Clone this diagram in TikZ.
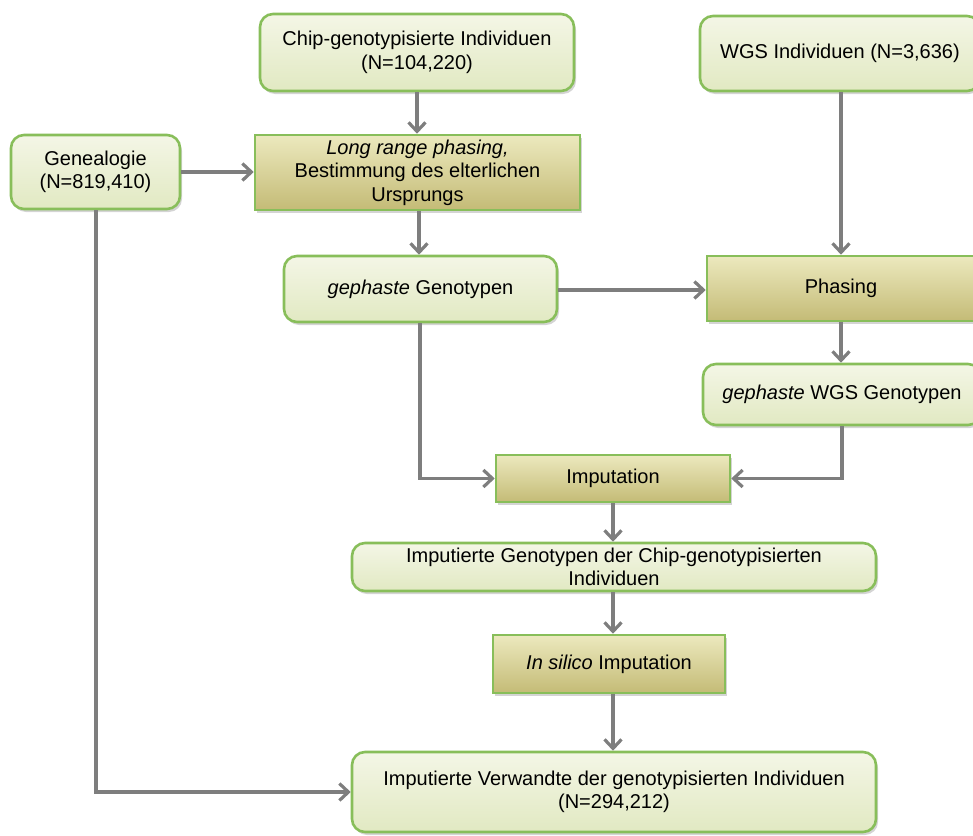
\documentclass[tikz,border=0pt]{standalone}
\usepackage{fontspec}
\setmainfont{Liberation Sans}
\usetikzlibrary{arrows.meta,shadows}
\definecolor{boxline}{HTML}{88BE5A}
\definecolor{paletop}{HTML}{F4F6E6}
\definecolor{palebot}{HTML}{E1E9C2}
\definecolor{olivetop}{HTML}{ECE9BE}
\definecolor{olivebot}{HTML}{C4BB76}
\definecolor{flow}{HTML}{7E7E7E}
\tikzset{
  basebox/.style={draw=boxline, line width=2.6pt, align=center, inner sep=0pt,
    font=\fontsize{20}{23.5}\selectfont,
    drop shadow={shadow xshift=2pt, shadow yshift=-3pt, opacity=0.28, fill=black!60}},
  databox/.style={basebox, rounded corners=13pt, top color=paletop, bottom color=palebot},
  procbox/.style={basebox, top color=olivetop, bottom color=olivebot},
  flowline/.style={draw=flow, line width=3.8pt,
    -{Straight Barb[length=9pt,width=17pt,line width=3.2pt]}}
}
\newcommand{\boxat}[6]{% name, style, x1, y1, x2, y2 -> node spanning that area
  \node[#2, minimum width={(#5-#3)*1pt}, minimum height={(#6-#4)*1pt}] (#1) at ({(#3+#5)/2},{(#4+#6)/2})}
\begin{document}
\begin{tikzpicture}[x=1pt,y=-1pt]
\useasboundingbox (0,0) rectangle (973,835);

\boxat{chip}{databox}{260}{14}{574}{91} {Chip-genotypisierte Individuen\\(N=104,220)};
\boxat{wgs}{databox}{700}{16}{980}{91} {WGS Individuen (N=3,636)};
\boxat{gen}{databox}{11}{135}{180}{209} {Genealogie\\(N=819,410)};
\boxat{lrp}{procbox}{255}{135}{580}{210} {\textit{Long range phasing,}\\Bestimmung des elterlichen\\Ursprungs};
\boxat{gph}{databox}{284}{256}{557}{322} {\textit{gephaste} Genotypen};
\boxat{phs}{procbox}{707}{256}{975}{321} {Phasing};
\boxat{gwgs}{databox}{703}{364}{981}{425} {\textit{gephaste} WGS Genotypen};
\boxat{imp}{procbox}{496}{455}{730}{502} {Imputation};
\boxat{igt}{databox}{352}{543}{876}{591} {Imputierte Genotypen der Chip-genotypisierten\\Individuen};
\boxat{isi}{procbox}{493}{635}{725}{693} {\textit{In silico} Imputation};
\boxat{ivw}{databox}{352}{752}{876}{832} {Imputierte Verwandte der genotypisierten Individuen\\(N=294,212)};

\draw[flowline] (chip.south -| 417,0) -- (lrp.north -| 417,0);
\draw[flowline] (gen.east) -- (lrp.west |- gen.east);
\draw[flowline] (wgs.south -| 841,0) -- (phs.north -| 841,0);
\draw[flowline] (lrp.south -| 419,0) -- (gph.north -| 419,0);
\draw[flowline] (gph.east |- 0,290) -- (phs.west |- 0,290);
\draw[flowline] (phs.south -| 841,0) -- (gwgs.north -| 841,0);
\draw[flowline] (gph.south -| 420,0) |- (imp.west);
\draw[flowline] (gwgs.south -| 842,0) |- (imp.east);
\draw[flowline] (imp.south -| 613,0) -- (igt.north -| 613,0);
\draw[flowline] (igt.south -| 613,0) -- (isi.north -| 613,0);
\draw[flowline] (isi.south -| 613,0) -- (ivw.north -| 613,0);
\draw[flowline] (gen.south -| 96,0) |- (ivw.west);
\end{tikzpicture}
\end{document}
